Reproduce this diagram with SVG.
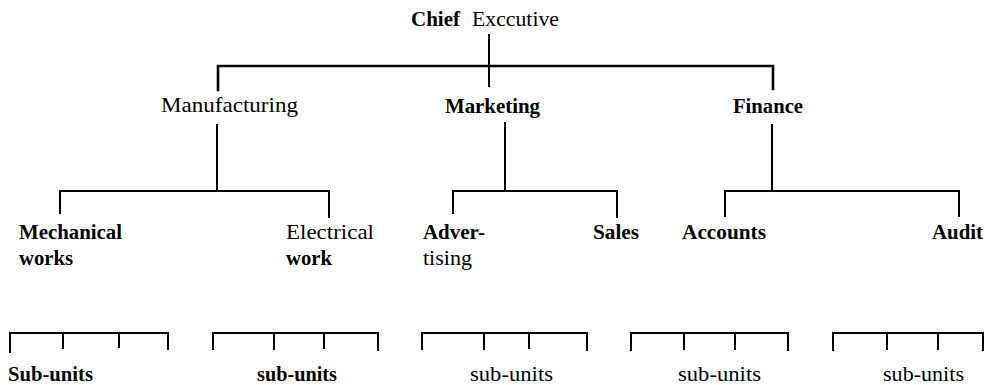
<svg xmlns="http://www.w3.org/2000/svg" width="985" height="385" viewBox="0 0 985 385">
<style>
text{font-family:"Liberation Serif","Times New Roman",serif;fill:#000}
.b{font-weight:bold;font-size:22px}
.r{font-weight:normal;font-size:22px}
.ln{stroke:#000;stroke-width:2;fill:none;stroke-linecap:square}
.top{stroke-width:2.6}
</style>
<rect width="985" height="385" fill="#fff"/>
<g id="connectors">
<path class="ln top" d="M218 90V66H773V89"/>
<path class="ln" d="M489 35V86"/>
<path class="ln" d="M217 125V191M60 213V191H329V217"/>
<path class="ln" d="M505 123V191M453 213V191H617V217"/>
<path class="ln" d="M772 125V191M725 216V191H959V216"/>
<path class="ln" d="M10 352V333H168V349M63 333V348M119 333V347"/>
<path class="ln" d="M213 349V333H378V350M274 333V349M324 333V348"/>
<path class="ln" d="M422 349V333H587V350M484 333V349M529 333V348"/>
<path class="ln" d="M631 350V333H788V350M684 333V349M735 333V349"/>
<path class="ln" d="M833 350V333H983V350M887 333V349M938 333V349"/>
</g>
<g id="chief"><text y="26"><tspan class="b" x="411" textLength="49" lengthAdjust="spacingAndGlyphs">Chief</tspan><tspan class="r" x="472" textLength="87" lengthAdjust="spacingAndGlyphs">Exccutive</tspan></text></g>
<g id="manufacturing"><text class="r" x="161" y="112" textLength="137" lengthAdjust="spacingAndGlyphs">Manufacturing</text></g>
<g id="marketing"><text class="b" x="445" y="113" textLength="95" lengthAdjust="spacingAndGlyphs">Marketing</text></g>
<g id="finance"><text class="b" x="733" y="113" textLength="70" lengthAdjust="spacingAndGlyphs">Finance</text></g>
<g id="mechanical"><text class="b" x="19" y="239" textLength="103" lengthAdjust="spacingAndGlyphs">Mechanical</text><text class="b" x="19" y="265" textLength="54" lengthAdjust="spacingAndGlyphs">works</text></g>
<g id="electrical"><text class="r" x="286" y="239" textLength="88" lengthAdjust="spacingAndGlyphs">Electrical</text><text class="b" x="286" y="265" textLength="46" lengthAdjust="spacingAndGlyphs">work</text></g>
<g id="advertising"><text class="b" x="423" y="239" textLength="62" lengthAdjust="spacingAndGlyphs">Adver-</text><text class="r" x="423" y="265" textLength="49" lengthAdjust="spacingAndGlyphs">tising</text></g>
<g id="sales"><text class="b" x="593" y="239" textLength="46" lengthAdjust="spacingAndGlyphs">Sales</text></g>
<g id="accounts"><text class="b" x="682" y="239" textLength="84" lengthAdjust="spacingAndGlyphs">Accounts</text></g>
<g id="audit"><text class="b" x="932" y="239" textLength="51" lengthAdjust="spacingAndGlyphs">Audit</text></g>
<g id="sub1"><text class="b" x="8" y="381" textLength="85" lengthAdjust="spacingAndGlyphs">Sub-units</text></g>
<g id="sub2"><text class="b" x="257" y="381" textLength="80" lengthAdjust="spacingAndGlyphs">sub-units</text></g>
<g id="sub3"><text class="r" x="470" y="381" textLength="83" lengthAdjust="spacingAndGlyphs">sub-units</text></g>
<g id="sub4"><text class="r" x="678" y="381" textLength="83" lengthAdjust="spacingAndGlyphs">sub-units</text></g>
<g id="sub5"><text class="r" x="883" y="381" textLength="81" lengthAdjust="spacingAndGlyphs">sub-units</text></g>
</svg>
